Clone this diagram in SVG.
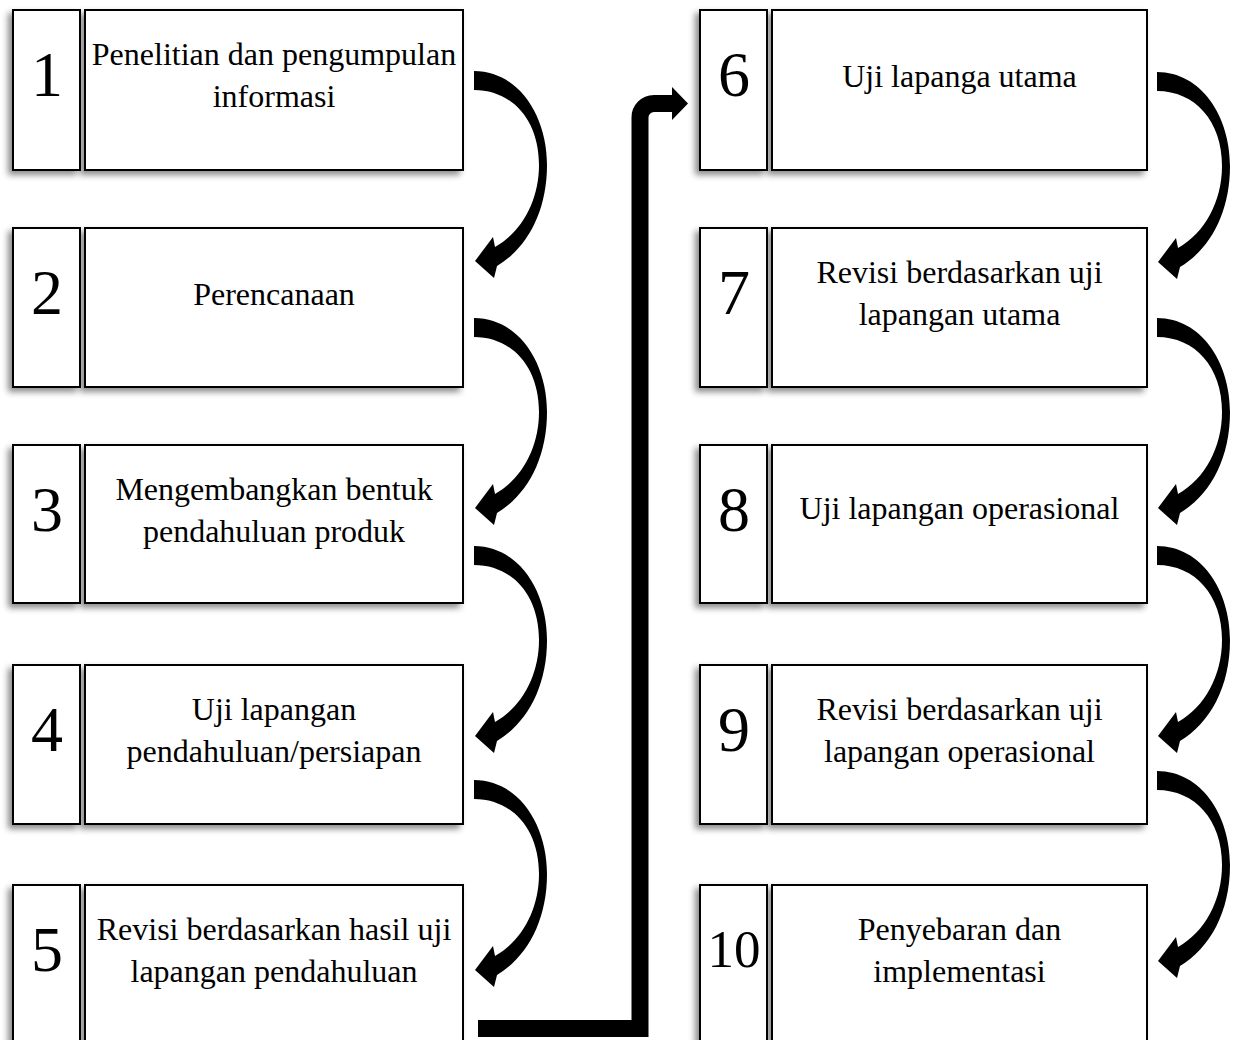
<svg xmlns="http://www.w3.org/2000/svg" xmlns:xlink="http://www.w3.org/1999/xlink" width="1242" height="1040" viewBox="0 0 1242 1040">
<style>
.box{fill:#fff;stroke:#000;stroke-width:2}
.num{font-family:"Liberation Serif","Times New Roman",serif;font-size:64px;text-anchor:middle;fill:#000}
.txt{font-family:"Liberation Serif","Times New Roman",serif;font-size:32px;text-anchor:middle;fill:#000}
.shadow{filter:url(#sh)}
</style>
<defs>
<filter id="sh" x="-20%" y="-20%" width="140%" height="140%">
<feDropShadow dx="-4" dy="4" stdDeviation="3" flood-color="#000" flood-opacity="0.45"/>
</filter>
<path id="curve" d="M0,0 C44,0 73,44 73,94 C73,141 53,177 23,195 L20,207 L1,190 L19,166 L21,176 C48,161 65,129 65,94 C65,49 38,19 0,19 Z" fill="#000"/>
</defs>
<rect width="1242" height="1040" fill="#fff"/>

<g id="node1">
<g class="shadow"><rect class="box" x="13" y="10" width="67" height="160"/><rect class="box" x="85" y="10" width="378" height="160"/></g>
<text class="num" x="47" y="96">1</text>
<text class="txt" x="274" y="65">Penelitian dan pengumpulan</text>
<text class="txt" x="274" y="107">informasi</text>
</g>
<g id="node2">
<g class="shadow"><rect class="box" x="13" y="228" width="67" height="159"/><rect class="box" x="85" y="228" width="378" height="159"/></g>
<text class="num" x="47" y="314">2</text>
<text class="txt" x="274" y="305">Perencanaan</text>
</g>
<g id="node3">
<g class="shadow"><rect class="box" x="13" y="445" width="67" height="158"/><rect class="box" x="85" y="445" width="378" height="158"/></g>
<text class="num" x="47" y="531">3</text>
<text class="txt" x="274" y="500">Mengembangkan bentuk</text>
<text class="txt" x="274" y="542">pendahuluan produk</text>
</g>
<g id="node4">
<g class="shadow"><rect class="box" x="13" y="665" width="67" height="159"/><rect class="box" x="85" y="665" width="378" height="159"/></g>
<text class="num" x="47" y="751">4</text>
<text class="txt" x="274" y="720">Uji lapangan</text>
<text class="txt" x="274" y="762">pendahuluan/persiapan</text>
</g>
<g id="node5">
<g class="shadow"><rect class="box" x="13" y="885" width="67" height="165"/><rect class="box" x="85" y="885" width="378" height="165"/></g>
<text class="num" x="47" y="971">5</text>
<text class="txt" x="274" y="940">Revisi berdasarkan hasil uji</text>
<text class="txt" x="274" y="982">lapangan pendahuluan</text>
</g>

<g id="node6">
<g class="shadow"><rect class="box" x="700" y="10" width="67" height="160"/><rect class="box" x="772" y="10" width="375" height="160"/></g>
<text class="num" x="734" y="96">6</text>
<text class="txt" x="959.5" y="87">Uji lapanga utama</text>
</g>
<g id="node7">
<g class="shadow"><rect class="box" x="700" y="228" width="67" height="159"/><rect class="box" x="772" y="228" width="375" height="159"/></g>
<text class="num" x="734" y="314">7</text>
<text class="txt" x="959.5" y="283">Revisi berdasarkan uji</text>
<text class="txt" x="959.5" y="325">lapangan utama</text>
</g>
<g id="node8">
<g class="shadow"><rect class="box" x="700" y="445" width="67" height="158"/><rect class="box" x="772" y="445" width="375" height="158"/></g>
<text class="num" x="734" y="531">8</text>
<text class="txt" x="959.5" y="519">Uji lapangan operasional</text>
</g>
<g id="node9">
<g class="shadow"><rect class="box" x="700" y="665" width="67" height="159"/><rect class="box" x="772" y="665" width="375" height="159"/></g>
<text class="num" x="734" y="751">9</text>
<text class="txt" x="959.5" y="720">Revisi berdasarkan uji</text>
<text class="txt" x="959.5" y="762">lapangan operasional</text>
</g>
<g id="node10">
<g class="shadow"><rect class="box" x="700" y="885" width="67" height="165"/><rect class="box" x="772" y="885" width="375" height="165"/></g>
<text class="num" x="734" y="967" style="font-size:53px">10</text>
<text class="txt" x="959.5" y="940">Penyebaran dan</text>
<text class="txt" x="959.5" y="982">implementasi</text>
</g>

<g id="connectors">
<use xlink:href="#curve" x="474" y="71"/>
<use xlink:href="#curve" x="474" y="318"/>
<use xlink:href="#curve" x="474" y="546"/>
<use xlink:href="#curve" x="474" y="780"/>
<use xlink:href="#curve" x="1157" y="72"/>
<use xlink:href="#curve" x="1157" y="318"/>
<use xlink:href="#curve" x="1157" y="546"/>
<use xlink:href="#curve" x="1157" y="771"/>
<path d="M478,1028.5 H640 V118 A14,14 0 0 1 654,103.5 H674" fill="none" stroke="#000" stroke-width="17" stroke-linejoin="miter"/>
<polygon points="672,87 688,103.5 672,120" fill="#000"/>
</g>
</svg>
